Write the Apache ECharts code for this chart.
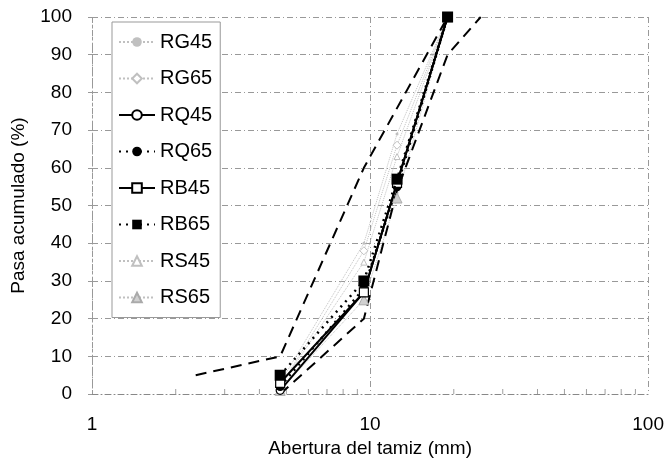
<!DOCTYPE html>
<html><head><meta charset="utf-8">
<script src="https://cdn.jsdelivr.net/npm/echarts@6/dist/echarts.min.js"></script>
<style>html,body{margin:0;padding:0;background:#fff}#c{width:667px;height:463px}</style>
</head><body><div id="c"></div>
<script>
const sieves = [4.75, 9.5, 12.5, 19];
const RG45 = [3, 40, 69, 100];
const RG65 = [2, 38, 66, 100];
const RQ45 = [1, 27, 56, 100];
const RQ65 = [2, 28, 55, 100];
const RB45 = [3, 27, 56, 100];
const RB65 = [5, 30, 57, 100];
const RS45 = [2, 35, 63, 100];
const RS65 = [1, 25, 52, 100];
const upperX = [2.36, 4.75, 9.5, 19];
const upperY = [5, 10, 60, 100];
const lowerX = [4.75, 9.5, 12.5, 19, 25];
const lowerY = [0, 20, 54, 90, 100];
const minorTickX = [2,3,4,5,6,7,8,9,20,30,40,50,60,70,80,90];
const xTickLabels = [1, 10, 100];

const pair = (xs, ys) => xs.map((x, i) => [x, ys[i]]);
const F = 'Liberation Sans, Arial, sans-serif';
const gray = '#c0c0c0';

const series = [
  {name:'RG45', type:'line', data:pair(sieves,RG45), symbol:'circle', symbolSize:3,
   lineStyle:{color:gray,width:1,type:'dotted'}, itemStyle:{color:gray}, z:2},
  {name:'RG65', type:'line', data:pair(sieves,RG65), symbol:'diamond', symbolSize:8,
   lineStyle:{color:gray,width:1,type:'dotted'}, itemStyle:{color:'#fff',borderColor:gray,borderWidth:1}, z:2},
  {name:'RQ45', type:'line', data:pair(sieves,RQ45), symbol:'circle', symbolSize:8,
   lineStyle:{color:'#000',width:2}, itemStyle:{color:'#fff',borderColor:'#000',borderWidth:1.2}, z:4},
  {name:'RQ65', type:'line', data:pair(sieves,RQ65), symbol:'circle', symbolSize:9,
   lineStyle:{color:'#000',width:2.5,type:[2,5]}, itemStyle:{color:'#000'}, z:4},
  {name:'RB45', type:'line', data:pair(sieves,RB45), symbol:'rect', symbolSize:9,
   lineStyle:{color:'#000',width:2}, itemStyle:{color:'#fff',borderColor:'#000',borderWidth:1.2}, z:4},
  {name:'RB65', type:'line', data:pair(sieves,RB65), symbol:'rect', symbolSize:11,
   lineStyle:{color:'#000',width:2.5,type:[2,5]}, itemStyle:{color:'#000'}, z:5},
  {name:'RS45', type:'line', data:pair(sieves,RS45), symbol:'triangle', symbolSize:6,
   lineStyle:{color:gray,width:1,type:'dotted'}, itemStyle:{color:'#fff',borderColor:gray,borderWidth:1}, z:2},
  {name:'RS65', type:'line', data:pair(sieves,RS65), symbol:'triangle', symbolSize:10,
   lineStyle:{color:gray,width:1,type:'dotted'}, itemStyle:{color:'#d0d0d0',borderColor:'#aaa',borderWidth:1}, z:3},
  {name:'sup', type:'line', data:pair(upperX,upperY), symbol:'none',
   lineStyle:{color:'#000',width:2,type:[11,7]}, z:3},
  {name:'inf', type:'line', data:pair(lowerX,lowerY), symbol:'none',
   lineStyle:{color:'#000',width:2,type:[11,7]}, z:3},
  {name:'ticks', type:'scatter', data:minorTickX.map(x=>[x,0]), symbol:'rect', symbolSize:[1,5],
   symbolOffset:[0,-2.5], itemStyle:{color:'#888'}, silent:true, z:1}
];

const chart = echarts.init(document.getElementById('c'), null, {renderer:'canvas'});
chart.setOption({
  animation:false,
  backgroundColor:'#fff',
  grid:{left:92, right:18, top:17, bottom:68},
  legend:{
    data:['RG45','RG65','RQ45','RQ65','RB45','RB65','RS45','RS65'],
    orient:'vertical', left:112, top:22, width:108,
    itemWidth:36, itemHeight:12, itemGap:16.5,
    padding:[10,8,10,6],
    borderColor:'#999', borderWidth:1, backgroundColor:'#fff',
    textStyle:{fontFamily:F, fontSize:20, color:'#000'}
  },
  xAxis:{
    type:'log', logBase:10, min:1, max:100,
    name:'Abertura del tamiz (mm)', nameLocation:'middle', nameGap:37,
    nameTextStyle:{fontFamily:F, fontSize:19, color:'#000'},
    axisLine:{show:true, lineStyle:{color:'#888', width:1, type:[6,3,1,3]}},
    axisTick:{show:false},
    axisLabel:{fontFamily:F, fontSize:19, color:'#000', margin:21,
      formatter:v => xTickLabels.includes(Math.round(v)) ? String(Math.round(v)) : ''},
    splitLine:{show:true, lineStyle:{color:'#999', width:1, type:[6,3,1,3]}}
  },
  yAxis:{
    type:'value', min:0, max:100, interval:10,
    name:'Pasa acumulado (%)', nameLocation:'middle', nameGap:64,
    nameTextStyle:{fontFamily:F, fontSize:19, color:'#000'},
    axisLine:{show:true, lineStyle:{color:'#999', width:1, type:[3,3]}},
    axisTick:{show:true, length:4, inside:false, lineStyle:{color:'#999'}},
    axisLabel:{fontFamily:F, fontSize:19, color:'#000', margin:20},
    splitLine:{show:true, lineStyle:{color:'#999', width:1, type:[6,3,1,3]}}
  },
  series:series
});
</script>
</body></html>
